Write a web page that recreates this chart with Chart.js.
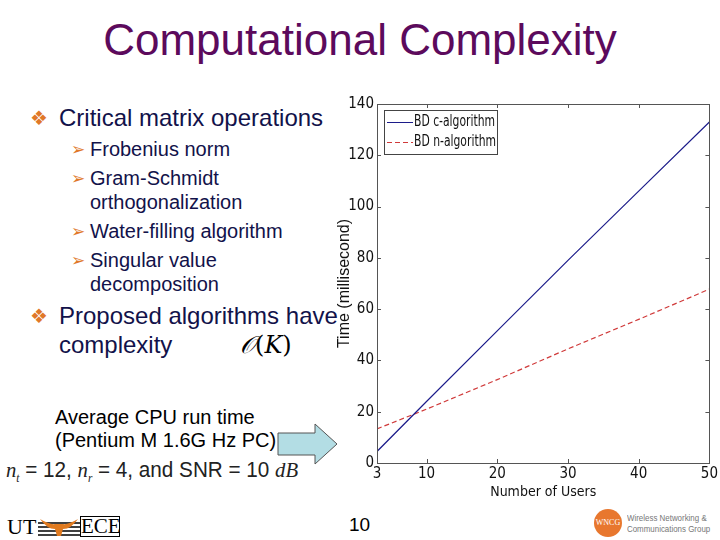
<!DOCTYPE html>
<html>
<head>
<meta charset="utf-8">
<script src="https://cdn.jsdelivr.net/npm/chart.js@4.4.1/dist/chart.umd.min.js"></script>
<style>
  html,body{margin:0;padding:0;background:#fff;}
  #slide{position:relative;width:720px;height:540px;overflow:hidden;font-family:Arial,"Liberation Sans",sans-serif;}
  .abs{position:absolute;white-space:nowrap;}
  #title{left:0;width:720px;top:15px;text-align:center;font-size:44px;color:#5c0a5c;}
  .b1{font-size:24px;color:#12124a;}
  .b2{font-size:20px;color:#12124a;}
  .dia{color:#e07828;font-family:"DejaVu Sans";font-size:20px;}
  .arr{color:#e07828;font-family:"DejaVu Sans";font-size:17px;}
  .plain{font-size:20px;color:#000;}
  #chartbox{position:absolute;left:335px;top:90px;width:385px;height:420px;}
</style>
</head>
<body>
<div id="slide">
  <div id="title" class="abs">Computational Complexity</div>

  <div class="abs dia" style="left:30px;top:106px;">❖</div>
  <div class="abs b1" style="left:59px;top:104px;">Critical matrix operations</div>

  <div class="abs arr" style="left:71px;top:139px;">➢</div>
  <div class="abs b2" style="left:90px;top:138px;">Frobenius norm</div>
  <div class="abs arr" style="left:71px;top:168px;">➢</div>
  <div class="abs b2" style="left:90px;top:167px;">Gram-Schmidt</div>
  <div class="abs b2" style="left:90px;top:191px;">orthogonalization</div>
  <div class="abs arr" style="left:71px;top:221px;">➢</div>
  <div class="abs b2" style="left:90px;top:220px;">Water-filling algorithm</div>
  <div class="abs arr" style="left:71px;top:250px;">➢</div>
  <div class="abs b2" style="left:90px;top:249px;">Singular value</div>
  <div class="abs b2" style="left:90px;top:273px;">decomposition</div>

  <div class="abs dia" style="left:30px;top:304px;">❖</div>
  <div class="abs b1" style="left:59px;top:302px;">Proposed algorithms have</div>
  <div class="abs b1" style="left:59px;top:331px;">complexity</div>
  <div class="abs" style="left:240px;top:331px;font-family:'DejaVu Serif',serif;font-size:24px;color:#000;"><i>𝒪</i>(<i>K</i>)</div>

  <div class="abs plain" style="left:55px;top:406px;">Average CPU run time</div>
  <div class="abs plain" style="left:55px;top:429px;">(Pentium M 1.6G Hz PC)</div>
  <svg class="abs" style="left:277px;top:423px;" width="62" height="42">
    <polygon points="1,10 38,10 38,1 60,21 38,41 38,32 1,32" fill="#b3dde4" stroke="#555" stroke-width="1"/>
  </svg>
  <div class="abs" style="left:6px;top:457px;font-size:22px;color:#222;transform:scaleX(0.94);transform-origin:0 0;">
    <i style="font-family:'Liberation Serif',serif;">n<sub style="font-size:12px;">t</sub></i> = 12, <i style="font-family:'Liberation Serif',serif;">n<sub style="font-size:12px;">r</sub></i> = 4, and SNR = 10 <i style="font-family:'Liberation Serif',serif;">dB</i>
  </div>

  <div class="abs" style="left:349px;top:514px;font-size:19px;color:#000;">10</div>

  <!-- UT ECE logo -->
  <div class="abs" style="left:7px;top:516px;width:112px;height:21px;">
    <div class="abs" style="left:0;top:-2px;font-family:'Liberation Serif',serif;font-size:22px;color:#000;">UT</div>
    <svg class="abs" style="left:31px;top:1px;" width="42" height="20">
      <line x1="0" y1="6" x2="42" y2="6" stroke="#000" stroke-width="1.5"/>
      <line x1="0" y1="10" x2="42" y2="10" stroke="#000" stroke-width="1.5"/>
      <line x1="0" y1="14" x2="42" y2="14" stroke="#000" stroke-width="1.5"/>
      <line x1="0" y1="18" x2="42" y2="18" stroke="#000" stroke-width="1.5"/>
      <path d="M2,2 Q12,8 17,7 L25,7 Q30,8 40,2 Q33,12 25,12 L23,19 L19,19 L17,12 Q9,12 2,2 Z" fill="#e07a1f"/>
    </svg>
    <div class="abs" style="left:73px;top:0px;width:38px;height:19px;border:1px solid #000;font-family:'Liberation Serif',serif;font-size:21px;line-height:19px;color:#000;text-align:center;">ECE</div>
  </div>

  <!-- WNCG logo -->
  <div class="abs" style="left:594px;top:509px;width:28px;height:28px;border-radius:50%;background:#e8772e;color:#fff;font-size:8px;line-height:28px;text-align:center;font-family:'Liberation Serif',serif;">WNCG</div>
  <div class="abs" style="left:627px;top:513px;font-size:9px;color:#777;line-height:11px;transform:scaleX(0.88);transform-origin:0 0;">Wireless Networking &amp;<br>Communications Group</div>

  <div id="chartbox"><canvas id="c" width="385" height="420"></canvas></div>
</div>

<script>
const users = [3, 10, 20, 30, 40, 50];
const cAlgorithm = [4.5, 24, 51.5, 79, 106, 133];
const nAlgorithm = [13.3, 21, 32.5, 44.5, 56, 67.8];
const xTicks = [3, 10, 20, 30, 40, 50];
const yTicks = [0, 20, 40, 60, 80, 100, 120, 140];
const seriesNames = ['BD c-algorithm', 'BD n-algorithm'];

const narrow = "'DejaVu Sans Condensed','Liberation Sans Narrow','Liberation Sans',Arial,sans-serif";

const boxPlugin = {
  id: 'matlabBox',
  afterDraw(chart) {
    const ctx = chart.ctx, a = chart.chartArea;
    const xs = chart.scales.x, ys = chart.scales.y;
    ctx.save();
    ctx.strokeStyle = '#555';
    ctx.lineWidth = 1;
    ctx.strokeRect(Math.round(a.left) + 0.5, Math.round(a.top) + 0.5, Math.round(a.right - a.left), Math.round(a.bottom - a.top));
    ctx.beginPath();
    xTicks.forEach(v => {
      const px = Math.round(xs.getPixelForValue(v)) + 0.5;
      ctx.moveTo(px, a.bottom); ctx.lineTo(px, a.bottom - 4);
      ctx.moveTo(px, a.top); ctx.lineTo(px, a.top + 4);
    });
    yTicks.forEach(v => {
      const py = Math.round(ys.getPixelForValue(v)) + 0.5;
      ctx.moveTo(a.left, py); ctx.lineTo(a.left + 4, py);
      ctx.moveTo(a.right, py); ctx.lineTo(a.right - 4, py);
    });
    ctx.stroke();
    const lx = Math.round(a.left) + 7, ly = Math.round(a.top) + 6, lw = 113, lh = 44;
    ctx.fillStyle = '#fff';
    ctx.fillRect(lx, ly, lw, lh);
    ctx.strokeStyle = '#444';
    ctx.strokeRect(lx + 0.5, ly + 0.5, lw, lh);
    ctx.font = "15px " + narrow;
    ctx.textBaseline = 'middle';
    chart.data.datasets.forEach((ds, i) => {
      const yy = ly + 12 + i * 20 + 0.5;
      ctx.strokeStyle = ds.borderColor;
      ctx.lineWidth = 1;
      ctx.setLineDash(ds.borderDash || []);
      ctx.beginPath(); ctx.moveTo(lx + 3, yy); ctx.lineTo(lx + 29, yy); ctx.stroke();
      ctx.setLineDash([]);
      ctx.fillStyle = '#111';
      ctx.save();
      ctx.translate(lx + 30, yy);
      ctx.scale(0.8, 1);
      ctx.fillText(ds.label, 0, 0);
      ctx.restore();
    });
    ctx.restore();
  }
};

new Chart(document.getElementById('c'), {
  type: 'line',
  data: {
    datasets: [
      { label: seriesNames[0], data: users.map((u, i) => ({x: u, y: cAlgorithm[i]})),
        borderColor: '#1c1c8a', borderWidth: 1.2, pointRadius: 0, fill: false, tension: 0 },
      { label: seriesNames[1], data: users.map((u, i) => ({x: u, y: nAlgorithm[i]})),
        borderColor: '#d03a3a', borderWidth: 1.2, borderDash: [5, 3], pointRadius: 0, fill: false, tension: 0 }
    ]
  },
  options: {
    responsive: false,
    animation: false,
    devicePixelRatio: 1,
    layout: { padding: { top: 14, right: 9, left: 0, bottom: 9 } },
    plugins: { legend: { display: false }, tooltip: { enabled: false } },
    scales: {
      x: {
        type: 'linear', min: 3, max: 50,
        afterBuildTicks(s) { s.ticks = xTicks.map(v => ({value: v})); },
        afterFit(s) { s.height = 38; },
        grid: { display: false, drawTicks: false },
        border: { display: false },
        ticks: { color: '#111', font: { family: narrow, size: 15 }, padding: 2, maxRotation: 0, autoSkip: false },
        title: { display: true, text: 'Number of Users', color: '#111', font: { family: narrow, size: 14 }, padding: { top: 1, bottom: 0 } }
      },
      y: {
        min: 0, max: 140,
        afterBuildTicks(s) { s.ticks = yTicks.map(v => ({value: v})); },
        afterFit(s) { s.width = 42; },
        grid: { display: false, drawTicks: false },
        border: { display: false },
        ticks: { color: '#111', font: { family: narrow, size: 15 }, padding: 3, autoSkip: false },
        title: { display: true, text: 'Time (millisecond)', color: '#111', font: { family: "Arial,'Liberation Sans',sans-serif", size: 16 }, padding: { top: 0, bottom: 0 } }
      }
    }
  },
  plugins: [boxPlugin]
});
</script>
</body>
</html>
